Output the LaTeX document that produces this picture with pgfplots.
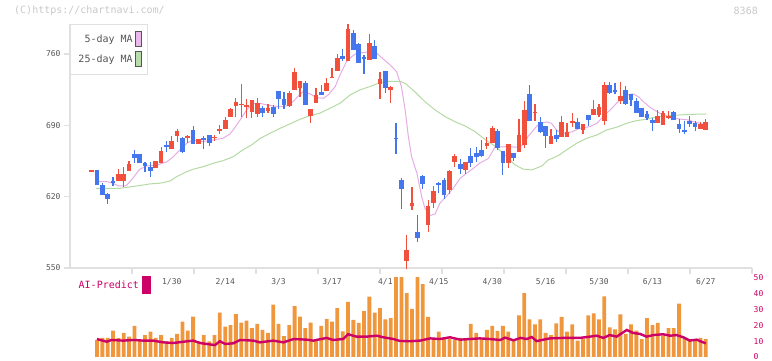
\documentclass[border=0pt]{standalone}
\usepackage{pgfplots}
\pgfplotsset{compat=1.18}
\usepackage{pgfplotstable}
\usepackage{fontspec}
\setmonofont{DejaVu Sans Mono}
\definecolor{upc}{HTML}{F0503C}
\definecolor{dnc}{HTML}{4477EE}
\definecolor{ma5}{HTML}{E6ACE6}
\definecolor{ma25}{HTML}{B4DAA4}
\definecolor{ma5box}{HTML}{EBB8EB}
\definecolor{ma25box}{HTML}{B8DCAC}
\definecolor{gridc}{HTML}{E0E0E0}
\definecolor{labc}{HTML}{555555}
\definecolor{volc}{HTML}{F0963C}
\definecolor{aic}{HTML}{CC0066}
\definecolor{wmc}{HTML}{C8C8C8}

% up (red) candles: index, open, high, low, close
\pgfplotstableread{
i o h l c
0 645 646 645 645.5
5 635.7 647 635.7 642.3
6 635.7 649.4 629.8 642.3
7 645.2 655 645 652.1
12 648.5 655 648 655
13 652.8 668.5 652.8 665.1
15 667.1 679.6 667 674.7
16 679.9 686.4 674 684.8
18 678 680.5 672.4 680
20 672 677 672 676.6
23 678 680.3 675 678.5
24 685.2 690.3 681.5 686.4
25 686.7 698.5 686.7 695.3
26 698.5 707.3 698.5 706
27 709.3 716.5 697.9 712.9
28 710.5 730.5 698.5 711
29 709 716 697.5 709.5
30 703.4 715 697.5 714.9
31 701.4 717 698.5 712.3
33 704.4 710.7 701.8 707
37 708.7 723.7 707.7 721.7
38 724.7 746.6 724.7 742.3
39 727 733.5 718 733.5
41 699.5 706 692.6 706
42 712.3 726.4 712 719.8
44 723.4 736.5 723.4 731.9
45 737 746 737 737.5
46 743.3 760.3 743 756.1
48 753.4 789.4 753 784.5
52 754.4 779.3 754 770.5
54 730.9 742.7 715.9 735.5
56 725 729 711.6 727.6
59 557.2 582.4 549 567.7
60 611.2 629.8 607 613.5
63 592.2 616.8 585.7 610.8
64 614.2 630.5 609.3 625.6
67 626.6 646.2 622.7 645.2
68 654.3 661.6 649.4 659.9
70 646.2 654 642.3 654
74 669.7 678.3 666.5 673
75 673 689.4 672.4 687.1
78 653.4 671.4 648 671.4
80 664.2 696.2 664 680.5
81 670.7 713.9 668.1 705.1
83 702.5 711 694.6 703
86 671.7 686.4 671.7 679.6
88 679 699 679 693.3
89 678.9 692 678.9 683.5
90 692.6 702.4 688.7 694.3
92 685.4 691.3 681.2 691.3
94 700.2 714.9 700.2 706
95 699.8 710.9 698.5 708
96 694.6 732.5 690.3 729.6
99 713.9 732.5 711 718.8
106 692.6 705.1 692.6 699.2
107 690.3 703.8 690.3 702.5
108 698.3 703.8 696.5 698.8
114 686.4 693.6 686.4 691.3
115 685.4 696.2 685.4 693.3
}\up

% down (blue) candles
\pgfplotstableread{
i o h l c
1 646 646 631.5 631.5
2 631.5 633.5 621.7 621.7
3 623 624 613 618
4 635 639.5 630 634
8 661.9 665.8 652.8 658
9 661.9 662 652.8 652.8
10 653.1 654.4 644.5 650.4
11 649.1 654.4 639 645.5
14 670.7 674.7 663.6 668.5
17 678 679 663 663.6
19 685.4 689.4 671.7 671.7
21 677.6 679.6 666.8 675.6
22 680.5 680.5 670 673
32 707.3 709 698.5 702.5
34 707.7 710 698.5 701.4
35 723.7 724 706 716.2
36 715.9 722.7 705.7 710.3
40 731.5 733 710 710
43 722.7 729.6 720 720
47 758 764.9 753.1 755.4
49 780.6 783.5 764 764.2
50 769.5 770.5 751 751.5
51 757 759 740.7 755.4
53 768.2 773.7 755 755.4
55 743.3 743.3 721.4 726.6
57 677.5 692.6 661.6 676.9
58 636.4 638 607.6 627.9
61 585.7 602 575.9 579.8
62 640.6 641.3 627.3 632.5
65 633 634.8 623.3 631
66 636.4 638 618 621.7
69 652 656.7 642.3 647.2
71 659.9 667.5 649.4 653.4
72 662.6 668.5 653.8 658.7
73 665.8 675.6 659.2 659.9
76 684.5 686.4 665.8 668.1
77 664.8 665 641.3 653.4
79 663.2 663.2 655 658.3
82 720.8 729.6 694.6 694.6
84 693.3 698.5 682.2 683.8
85 689.4 689.4 668.1 679.6
87 680 685.4 674 676.6
91 693.3 697.2 686.4 686.4
93 700.5 700.5 689.7 695.3
97 729.6 732.5 720.8 722
98 724.7 731.2 720.8 722.7
100 724.7 728.6 709.7 711
101 720.8 720.8 709.3 714.9
102 713.9 716.5 702.4 702.4
103 707.3 707.3 698.5 698.5
104 701.1 704.4 695.3 696.9
105 695.3 697 684.8 692
109 703.1 704.1 695.3 695.3
110 691.3 696.2 682.8 686.4
111 685.4 694 681.2 683.5
112 694.3 699.2 688.1 691.3
113 692 694 684.8 688.7
}\dn

% 5-day moving average
\pgfplotstableread{
i v
1.2 634.7
2.8 634.7
4 633.2
5 630.5
6.2 630.5
6.6 631.5
7.7 638
9 646.9
10.3 650.1
12.2 651.1
14 654
15.2 658.7
16.5 665.8
17.8 672.4
19 675.6
20.8 674
22.7 675.6
24.6 677.3
25.9 681.5
26.5 685.4
27.8 695.3
29 705.1
30.3 711.6
31.5 711.6
32.8 710
34 709
35.3 708.3
36.5 709
37.7 713.2
38.7 718.8
39.6 723
40.9 720.8
42.1 717.1
43.4 716.5
44.3 719.8
45.6 728
46.5 739.4
47.7 752.4
48.7 757.4
49.6 760.7
50.9 761.3
52.1 762.3
53.4 760.7
54.6 755
55.9 749.2
57.1 742.6
58 728
58.7 705
59.3 678.9
59.9 659.2
60.9 643
61.8 620
62.4 608.6
63.3 601.4
64.3 603
65.2 613.5
66.5 620.7
67.7 628.2
69 638
70.2 643
71.5 647.9
72.7 653
74.3 657.5
75.5 668.5
77.7 669.1
79.6 668.5
80.8 670.7
81.7 678.9
83 687.1
83.9 692
85.2 693.3
86.1 692
87.1 685
88.3 682
89.9 683.5
91.4 687.1
93.3 688.7
94.6 692
95.8 698.5
97.4 706.7
98.9 714.9
100.2 719.8
101.4 720.8
102.4 718
103.3 713.2
104.8 706.7
106.4 701.8
108 698.5
109.2 696.9
110.5 695.9
111.7 695.3
112.6 693.6
113.9 692
115 690.5
}\mafive

% 25-day moving average
\pgfplotstableread{
i v
0.8 628.2
5.3 628.2
6.6 629.2
8.5 630.5
10.9 632.5
12.8 633.2
14.7 635.4
15.9 639.6
17.8 644.5
19 646.9
20.9 649.4
22.8 652.8
24.6 655.3
26.5 659.2
28.2 665.5
30 671
31.5 677
33.4 682.2
35.3 687.1
37.1 691.3
39 695.9
40.9 699.5
42.7 701.8
44.6 706.7
46.5 711.6
48.4 719.8
50.2 724.7
52.1 728
54 731.9
55.5 733.2
57.7 733.2
58.7 731.2
60.5 723
62.4 713.2
64.3 705.1
66.2 698.5
68 693.6
69.9 689.4
71.8 683.8
73.6 676.3
75.5 669.7
77.4 660.9
79.3 651.1
80.8 647
82.4 646.2
84.3 650.1
85.5 656
86.7 658.7
87.6 661
88.9 665.8
90.8 672.4
92.7 677.3
94.6 680.5
96.4 685.4
98.3 688.1
100.2 692
102 694.6
103.9 695.9
105.8 698.5
107.5 699.2
110.2 700.2
112.7 700.8
115.1 701.1
}\matwentyfive

% lower panel bars
\pgfplotstableread{
i v
1 10.7
2 12
3 12
4 16.6
5 12
6 15.1
7 12.8
8 19.5
9 10.7
10 13.8
11 15.9
12 12
13 13.8
14 9.9
15 12
16 14.5
17 22.2
18 16.6
19 25.4
20 9.9
21 13.8
22 9.9
23 13.8
24 27.9
25 19.1
26 20.1
27 27
28 21.6
29 22.9
30 18.2
31 20.8
32 17
33 15.1
34 32.9
35 20.8
36 13.2
37 20.1
38 32
39 25.4
40 18.2
41 21.6
42 10.7
43 19.5
44 23.9
45 22.2
46 30.8
47 16.1
48 34.6
49 23.3
50 21.4
51 28.9
52 37.9
53 27.9
54 30.8
55 23.7
56 24.5
57 60
58 60
59 40.2
60 30.2
61 60
62 45.9
63 25.2
64 11.3
65 15.9
66 11.3
67 11.3
68 10.9
69 12
70 11.3
71 20.8
72 15.1
73 11.3
74 17
75 19.5
76 16.4
77 19.5
78 15.9
79 11.3
80 26.2
81 40.2
82 23.7
83 20.5
84 23.7
85 15.1
86 13.8
87 21.2
88 25.2
89 15.9
90 20.5
91 10.3
92 11.3
93 26.2
94 27.5
95 23.7
96 38.2
97 18.7
98 17.4
99 26.8
100 14.5
101 20.5
102 16.6
103 11.3
104 24.5
105 20.1
106 21.4
107 13.4
108 18.2
109 18.2
110 33.5
111 12.4
112 11.3
113 11.3
114 12
115 11.3
}\vol

% AI-Predict line
\pgfplotstableread{
i v
1 11.3
2.8 9.6
3.7 10.7
5.9 10.3
7.8 10.7
9.7 10.3
11.5 10.3
13.4 9.2
15.3 8.8
17.2 9.6
19 10.3
20.3 8.8
21.5 8.2
23.1 7.5
24 9.9
25 8.2
26.5 8.6
27.8 10.7
30.3 10.3
31.5 9.2
34 10.3
35.9 9.2
37.8 11.3
40.3 10.9
41.5 10.3
44 12
45.2 10.7
47.1 11.3
48 14.3
49.6 12.8
51.5 12.8
53.4 13.4
54.6 12.4
56.5 11.3
57.7 10.1
59.6 9.9
61.5 10.3
63.4 11.7
65.2 11.3
67.1 12.4
69 10.9
70.8 11.3
72.7 11.7
74.6 11.3
76.5 10.7
77.4 12.2
79 10.5
80.3 12
81.5 11.3
82.4 12.6
83.3 10
84.6 10.9
85.8 11.7
88.3 12
91.4 12
93.3 12.8
94.6 13.4
95.8 12
97 13.8
98.3 12.8
100.2 17
101.4 15.1
102.7 14.5
103.9 12.8
105.2 13.8
107 14.3
108.3 13.4
109.5 13.8
110.8 12.4
112 10.3
113.3 10.9
114.2 9.6
115 8.6
}\ai

\begin{document}
\begin{tikzpicture}
\path[use as bounding box] (0pt,0pt) rectangle (772pt,361pt);
\node[anchor=west, font=\ttfamily\fontsize{10}{12}\selectfont, text=wmc, inner sep=0pt] at (14pt,350pt) {(C)https://chartnavi.com/};
\node[anchor=east, font=\ttfamily\fontsize{10}{12}\selectfont, text=wmc, inner sep=0pt] at (758pt,350pt) {8368};

\begin{axis}[at={(70pt,93pt)}, anchor=south west, scale only axis,
  width=682pt, height=244pt,
  xmin=-4.06, xmax=123.65, ymin=550, ymax=789.4,
  clip=false,
  axis x line*=bottom, axis y line*=left,
  axis line style={draw=gridc, line width=1.5pt, -},
  tick align=outside, major tick length=6pt,
  tick style={draw=gridc, line width=1.5pt},
  ytick={550,620,690,760},
  /pgf/number format/assume math mode=true,
  yticklabel style={font=\ttfamily\fontsize{8}{10}\selectfont, text=labc},
  xtick={7.55,19.16,30.77,42.38,53.99,65.6,77.2,88.82,100.43,112.04,123.65},
  xticklabels={},
  extra x ticks={15,25,35,45,55,65,75,85,95,105,115},
  extra x tick labels={1/30,2/14,3/3,3/17,4/1,4/15,4/30,5/16,5/30,6/13,6/27},
  extra x tick style={major tick length=0pt, tick style={draw=none},
    xticklabel style={font=\ttfamily\fontsize{8}{10}\selectfont, text=labc, yshift=-7pt}},
  legend style={at={(rel axis cs:0,1)}, anchor=north west, draw=gridc, line width=1pt,
    fill=white, font=\ttfamily\fontsize{10}{12}\selectfont, text=labc,
    inner xsep=6pt, inner ysep=7pt, row sep=4pt},
  legend plot pos=right, legend cell align=right,
]
\addplot[ma5, line width=1pt, legend image code/.code={\draw[fill=ma5box, draw=labc, line width=0.8pt] (0pt,-7.5pt) rectangle (6.5pt,7.5pt);}] table[x=i, y=v] {\mafive};
\addlegendentry{5-day MA}
\addplot[ma25, line width=1pt, legend image code/.code={\draw[fill=ma25box, draw=labc, line width=0.8pt] (0pt,-7.5pt) rectangle (6.5pt,7.5pt);}] table[x=i, y=v] {\matwentyfive};
\addlegendentry{25-day MA}

\addplot[forget plot, draw=none, mark=none, error bars/.cd, y dir=both, y explicit, error mark=none,
  error bar style={line width=1.2pt, draw=upc}]
  table[x=i, y expr={(\thisrow{h}+\thisrow{l})/2}, y error expr={(\thisrow{h}-\thisrow{l})/2}] {\up};
\addplot[forget plot, draw=none, mark=none, error bars/.cd, y dir=both, y explicit, error mark=none,
  error bar style={line width=4.7pt, draw=upc}]
  table[x=i, y expr={(\thisrow{o}+\thisrow{c})/2}, y error expr={max(abs(\thisrow{o}-\thisrow{c})/2,0.6)}] {\up};
\addplot[forget plot, draw=none, mark=none, error bars/.cd, y dir=both, y explicit, error mark=none,
  error bar style={line width=1.2pt, draw=dnc}]
  table[x=i, y expr={(\thisrow{h}+\thisrow{l})/2}, y error expr={(\thisrow{h}-\thisrow{l})/2}] {\dn};
\addplot[forget plot, draw=none, mark=none, error bars/.cd, y dir=both, y explicit, error mark=none,
  error bar style={line width=4.7pt, draw=dnc}]
  table[x=i, y expr={(\thisrow{o}+\thisrow{c})/2}, y error expr={max(abs(\thisrow{o}-\thisrow{c})/2,0.6)}] {\dn};
\end{axis}

\begin{axis}[at={(70pt,4pt)}, anchor=south west, scale only axis,
  width=682pt, height=79.5pt,
  xmin=-4.06, xmax=123.65, ymin=0, ymax=50,
  axis line style={draw=none},
  xtick=\empty, ytick={0,10,20,30,40,50},
  ytick pos=right, yticklabel pos=right, major tick length=0pt,
  /pgf/number format/assume math mode=true,
  yticklabel style={font=\ttfamily\fontsize{8}{10}\selectfont, text=aic, anchor=west, inner sep=0pt, xshift=1.5pt},
  legend style={at={(axis cs:-4.06,51.8)}, anchor=north west, draw=none, fill=none,
    font=\ttfamily\fontsize{10}{12}\selectfont, text=aic, inner xsep=5pt, inner ysep=1pt,
    nodes={inner xsep=3.5pt}},
  legend plot pos=right,
]
\addplot[forget plot, ybar, bar width=3.8pt, fill=volc, draw=none] table[x=i, y=v] {\vol};
\addplot[aic, line width=2.4pt, mark=none, legend image code/.code={\fill[aic] (0pt,-8pt) rectangle (6.5pt,8pt);}] table[x=i, y=v] {\ai};
\addlegendentry{AI-Predict}
\end{axis}
\end{tikzpicture}
\end{document}
